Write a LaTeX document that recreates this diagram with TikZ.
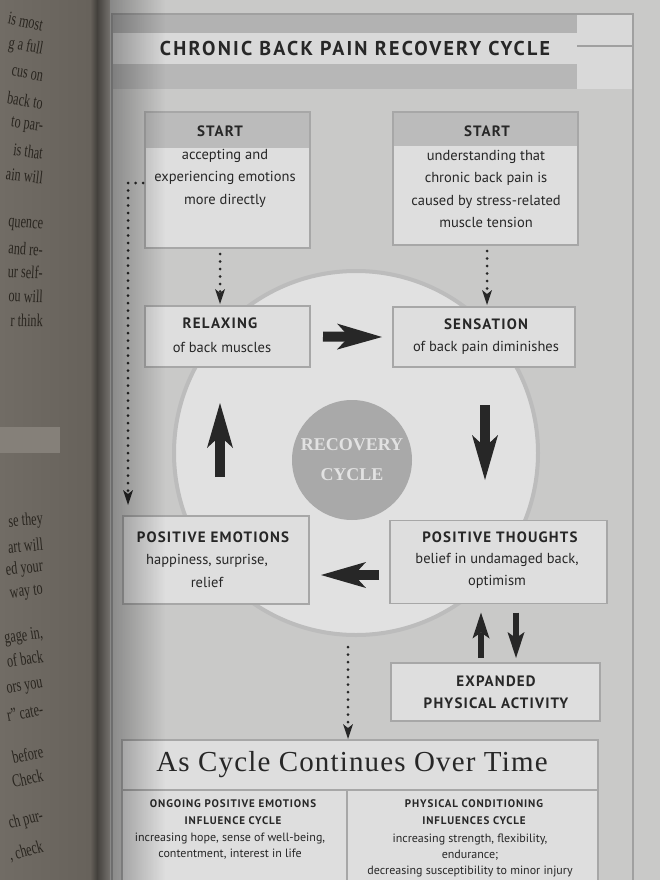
\documentclass[tikz,border=0pt]{standalone}
\usepackage{fontspec}
\setmainfont{PT Sans}
\newfontfamily\hfont[LetterSpace=8]{PT Sans}
\newfontfamily\titlefont[LetterSpace=11]{PT Sans}
\newfontfamily\tfont[LetterSpace=4]{Liberation Serif}
\newfontfamily\pfont{Liberation Serif}
\usetikzlibrary{arrows.meta,fadings,calc}
\definecolor{lpA}{HTML}{716C65}
\definecolor{lpB}{HTML}{67625B}
\definecolor{gut}{HTML}{43403C}
\definecolor{gutB}{HTML}{75726E}
\definecolor{lpBar}{HTML}{858079}
\definecolor{lptext}{HTML}{29251F}
\definecolor{pagegray}{HTML}{C9C9C8}
\definecolor{frameline}{HTML}{A0A0A0}
\definecolor{band}{HTML}{B2B2B2}
\definecolor{band2}{HTML}{B7B7B7}
\definecolor{strip}{HTML}{D9D9D9}
\definecolor{boxfill}{HTML}{DEDEDE}
\definecolor{boxline}{HTML}{A7A7A7}
\definecolor{hdr}{HTML}{BBBBBB}
\definecolor{ink}{HTML}{272727}
\definecolor{circfill}{HTML}{E1E1E1}
\definecolor{ring}{HTML}{BCBCBC}
\definecolor{rec}{HTML}{A9A9A9}
\definecolor{rectext}{HTML}{E2E2E2}
\begin{document}
\begin{tikzpicture}[x=1pt,y=-1pt,
  box/.style={draw=boxline, fill=boxfill, line width=1.8pt, inner sep=0pt, outer sep=0pt},
  hd/.style={font=\hfont\bfseries\fontsize{15}{18}\selectfont, text=ink, inner sep=0pt},
  bd/.style={font=\fontsize{14.5}{22.5}\selectfont, text=ink, align=center, inner sep=0pt},
  colhd/.style={font=\hfont\bfseries\fontsize{11}{17}\selectfont, text=ink, align=center, inner sep=0pt},
  colbd/.style={font=\fontsize{12}{16}\selectfont, text=ink, align=center, inner sep=0pt},
  lp/.style={font=\pfont\fontsize{18}{20}\selectfont, text=lptext, anchor=east, inner sep=0pt},
  blockarrow/.style={draw=ink, line width=10pt, -{Stealth[length=45pt,width=26pt,inset=12pt,line width=0pt]}},
  smallarrow/.style={draw=ink, line width=6.5pt, -{Stealth[length=26pt,width=17pt,inset=6pt,line width=0pt]}},
  dotarrow/.style={draw=ink, line width=3pt, line cap=round, dash pattern=on 0pt off 7.5pt, -{Stealth[length=15pt,width=10pt,inset=4pt,line width=0pt]}},
]
\useasboundingbox (0,0) rectangle (660,880);
% ---------- left page (photo) ----------
\shade[left color=lpA, right color=lpB] (0,0) rectangle (90,880);
\shade[left color=lpB, right color=gut] (90,0) rectangle (97,880);
\shade[left color=gut, right color=gutB] (97,0) rectangle (110,880);
\fill[lpBar] (0,427) rectangle (60,453);
\node[lp, rotate=-11.2, xscale=0.68] (l01) at (43,25) {is most};
\node[lp, rotate=-10.4, xscale=0.68] (l02) at (43,50) {g a full};
\node[lp, rotate=-9.5, xscale=0.68] (l03) at (43,77) {cus on};
\node[lp, rotate=-8.7, xscale=0.68] (l04) at (43,103) {back to};
\node[lp, rotate=-7.9, xscale=0.68] (l05) at (43,128) {to par-};
\node[lp, rotate=-7.1, xscale=0.68] (l06) at (43,153) {is that};
\node[lp, rotate=-6.4, xscale=0.68] (l07) at (43,178) {ain will};
\node[lp, rotate=-4.8, xscale=0.68] (l08) at (43,227) {quence};
\node[lp, rotate=-4.1, xscale=0.68] (l09) at (43,250) {and re-};
\node[lp, rotate=-3.3, xscale=0.68] (l10) at (43,273) {ur self-};
\node[lp, rotate=-2.6, xscale=0.68] (l11) at (43,297) {ou will};
\node[lp, rotate=-1.8, xscale=0.68] (l12) at (43,321) {r think};
\node[lp, rotate=4.6, xscale=0.68] (l13) at (43,520) {se they};
\node[lp, rotate=5.3, xscale=0.68] (l14) at (43,544) {art will};
\node[lp, rotate=6.1, xscale=0.68] (l15) at (43,567) {ed your};
\node[lp, rotate=6.8, xscale=0.68] (l16) at (43,591) {way to};
\node[lp, rotate=8.3, xscale=0.68] (l17) at (43,634) {gage in,};
\node[lp, rotate=8.9, xscale=0.68] (l18) at (43,656) {of back};
\node[lp, rotate=9.6, xscale=0.68] (l19) at (43,685) {ors you};
\node[lp, rotate=10.4, xscale=0.68] (l20) at (43,709) {r” cate-};
\node[lp, rotate=11.9, xscale=0.68] (l21) at (43,751) {before};
\node[lp, rotate=12.6, xscale=0.68] (l22) at (43,775) {Check};
\node[lp, rotate=14.1, xscale=0.68] (l23) at (43,816) {ch pur-};
\node[lp, rotate=14.8, xscale=0.68] (l24) at (43,847) {, check};
% ---------- right page ----------
\fill[pagegray] (110,0) rectangle (660,880);
% title bands
\fill[band] (112,14) rectangle (577,33);
\fill[strip] (112,33) rectangle (577,64);
\fill[band2] (112,64) rectangle (577,89);
\fill[strip] (577,14) rectangle (633,89);
\draw[frameline, line width=1.2pt] (577,46) -- (633,46);
\draw[frameline, line width=1.5pt] (112,890) -- (112,14) -- (633,14) -- (633,890);
\node[font=\titlefont\bfseries\fontsize{20}{22}\selectfont, text=ink, inner sep=0pt] (title) at (355,49) {CHRONIC BACK PAIN RECOVERY CYCLE};
% big cycle circle
\node[circle, draw=ring, line width=4pt, fill=circfill, minimum size=364pt, inner sep=0pt] (cyc) at (356,453) {};
\node[circle, fill=rec, minimum size=120pt, inner sep=0pt, align=center, text=rectext,
      font=\pfont\bfseries\fontsize{18}{30}\selectfont] (rc) at (352,460) {RECOVERY\\CYCLE};
% boxes
\node[box, minimum width=165pt, minimum height=136pt] (lstart) at (227.5,180) {};
\node[box, minimum width=185pt, minimum height=133pt] (rstart) at (485.5,178.5) {};
\fill[hdr] (lstart.north west) rectangle ($(lstart.north east)+(0,36)$);
\fill[hdr] (rstart.north west) rectangle ($(rstart.north east)+(0,34)$);
\draw[boxline, line width=1.8pt] (lstart.south west) rectangle (lstart.north east);
\draw[boxline, line width=1.8pt] (rstart.south west) rectangle (rstart.north east);
\node[box, minimum width=165pt, minimum height=61pt] (relax) at (227.5,336.5) {};
\node[box, minimum width=182pt, minimum height=60pt] (sens) at (484,337) {};
\node[box, minimum width=186pt, minimum height=88pt] (pemo) at (216,560) {};
\node[box, minimum width=217pt, minimum height=83pt] (pthought) at (498.5,562) {};
\node[box, minimum width=209pt, minimum height=58pt] (expand) at (495.5,692) {};
\node[box, minimum width=476pt, minimum height=50pt] (cycbox) at (360,765) {};
\node[box, anchor=north west, minimum width=225pt, minimum height=110pt] (lcol) at (cycbox.south west) {};
\node[box, anchor=north east, minimum width=251pt, minimum height=110pt] (rcol) at (cycbox.south east) {};
% texts
\node[hd] (t1) at (220,131) {START};
\node[bd] (t2) at (225,178) {accepting and\\experiencing emotions\\more directly};
\node[hd] (t3) at (487,131) {START};
\node[bd] (t4) at (486,189) {understanding that\\chronic back pain is\\caused by stress-related\\muscle tension};
\node[hd] (t5) at (220,323) {RELAXING};
\node[bd] (t6) at (222,347) {of back muscles};
\node[hd] (t7) at (486,324) {SENSATION};
\node[bd] (t8) at (486,348) {of back pain diminishes};
\node[hd] (t9) at (213,537) {POSITIVE EMOTIONS};
\node[bd] (t10) at (207,571) {happiness, surprise,\\relief};
\node[hd] (t11) at (500,537) {POSITIVE THOUGHTS};
\node[bd] (t12) at (497,571) {belief in undamaged back,\\optimism};
\node[hd, align=center, font=\hfont\bfseries\fontsize{15}{22}\selectfont] (t13) at (496,692) {EXPANDED\\PHYSICAL ACTIVITY};
\node[font=\tfont\fontsize{29}{30}\selectfont, text=ink, inner sep=0pt] (t14) at (352,765) {As Cycle Continues Over Time};
\node[colhd] (t15) at (233,812) {ONGOING POSITIVE EMOTIONS\\INFLUENCE CYCLE};
\node[colbd] (t16) at (230,846) {increasing hope, sense of well-being,\\contentment, interest in life};
\node[colhd] (t17) at (474,812) {PHYSICAL CONDITIONING\\INFLUENCES CYCLE};
\node[colbd] (t18) at (470,855) {increasing strength, flexibility,\\endurance;\\decreasing susceptibility to minor injury};
% cycle arrows
\draw[blockarrow] ($(relax.east)+(13,0)$) -- ($(sens.west)+(-11,0)$);
\draw[blockarrow] ($(sens.south)+(1,38)$) -- ($(sens.south)+(1,113)$);
\draw[blockarrow] ($(pthought.west)+(-11,13)$) -- ($(pemo.east)+(12,15)$);
\draw[blockarrow] ($(pemo.north)+(4,-39)$) -- ($(relax.south)+(-7.5,36)$);
\draw[smallarrow] ($(expand.north)+(-14.5,-5)$) -- ($(pthought.south)+(-17.5,9)$);
\draw[smallarrow] ($(pthought.south)+(17.5,9)$) -- ($(expand.north)+(20.5,-5)$);
% dotted arrows
\draw[dotarrow] ($(lstart.south)+(-7.5,6)$) -- ($(relax.north)+(-7.5,-2)$);
\draw[dotarrow] ($(rstart.south)+(1.5,6)$) -- ($(sens.north)+(3,-2)$);
\draw[dotarrow] ($(lstart.west)+(-2,3)$) -| ($(pemo.north west)+(5,-11)$);
\draw[dotarrow] ($(cyc.south)+(-8,10)$) -- ($(cycbox.north)+(-12,-1)$);
% gutter shadow on the right page
\fill[black, fill opacity=0.32, path fading=east] (110,0) rectangle (165,880);
\end{tikzpicture}
\end{document}
